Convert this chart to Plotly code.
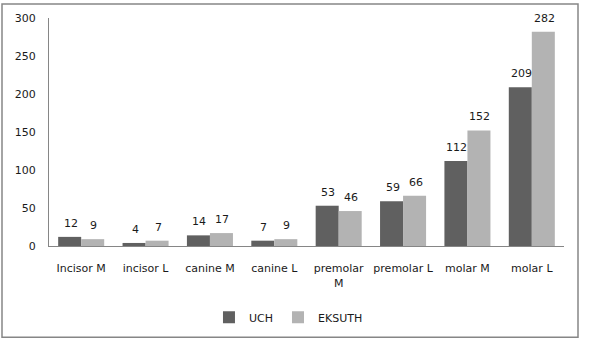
import plotly.graph_objects as go

categories = ["Incisor M", "incisor L", "canine M", "canine L", "premolar<br>M", "premolar L", "molar M", "molar L"]
uch = [12, 4, 14, 7, 53, 59, 112, 209]
eksuth = [9, 7, 17, 9, 46, 66, 152, 282]
y_ticks = [0, 50, 100, 150, 200, 250, 300]

font = dict(family="DejaVu Sans", size=11, color="#1a1a1a")

L, R, T, B = 49, 564, 16, 246
W, H = 590, 353
pw, ph = R - L, B - T
bargap = 0.285
cat_w = pw / len(categories)
bar_w = cat_w * (1 - bargap) / 2

def px(x):
    return (x - L) / pw

def py(y):
    return (B - y) / ph

fig = go.Figure()
fig.add_trace(go.Bar(name="UCH", x=categories, y=uch, marker_color="#606060", marker_line_width=0))
fig.add_trace(go.Bar(name="EKSUTH", x=categories, y=eksuth, marker_color="#b3b3b3", marker_line_width=0))

annotations = []
for series, shift in ((uch, -bar_w / 2), (eksuth, bar_w / 2)):
    for c, v in zip(categories, series):
        annotations.append(dict(x=c, y=v, xref="x", yref="y", text=str(v), showarrow=False,
                                xshift=shift + 1, yshift=5, yanchor="bottom",
                                font=font))

fig.update_layout(
    width=W, height=H,
    margin=dict(l=L, r=W - R, t=T, b=H - B),
    barmode="group", bargap=bargap, bargroupgap=0,
    plot_bgcolor="white", paper_bgcolor="white",
    font=font,
    showlegend=True,
    legend=dict(orientation="h", x=0.465, xanchor="center", y=py(318), yanchor="middle",
                font=font, itemwidth=30, traceorder="normal"),
    xaxis=dict(showline=True, linecolor="#868686", linewidth=1, ticks="",
               tickfont=font, ticklabelstandoff=12),
    yaxis=dict(range=[0, 300], tickvals=y_ticks, showgrid=False, zeroline=False,
               showline=True, linecolor="#868686", linewidth=1, ticks="",
               tickfont=font, ticklabelstandoff=10),
    annotations=annotations,
    shapes=[dict(type="rect", xref="paper", yref="paper",
                 x0=px(2), x1=px(578), y0=py(338), y1=py(2),
                 line=dict(color="#868686", width=1.5), fillcolor="rgba(0,0,0,0)", layer="below")],
)

fig.write_html("out.html")
